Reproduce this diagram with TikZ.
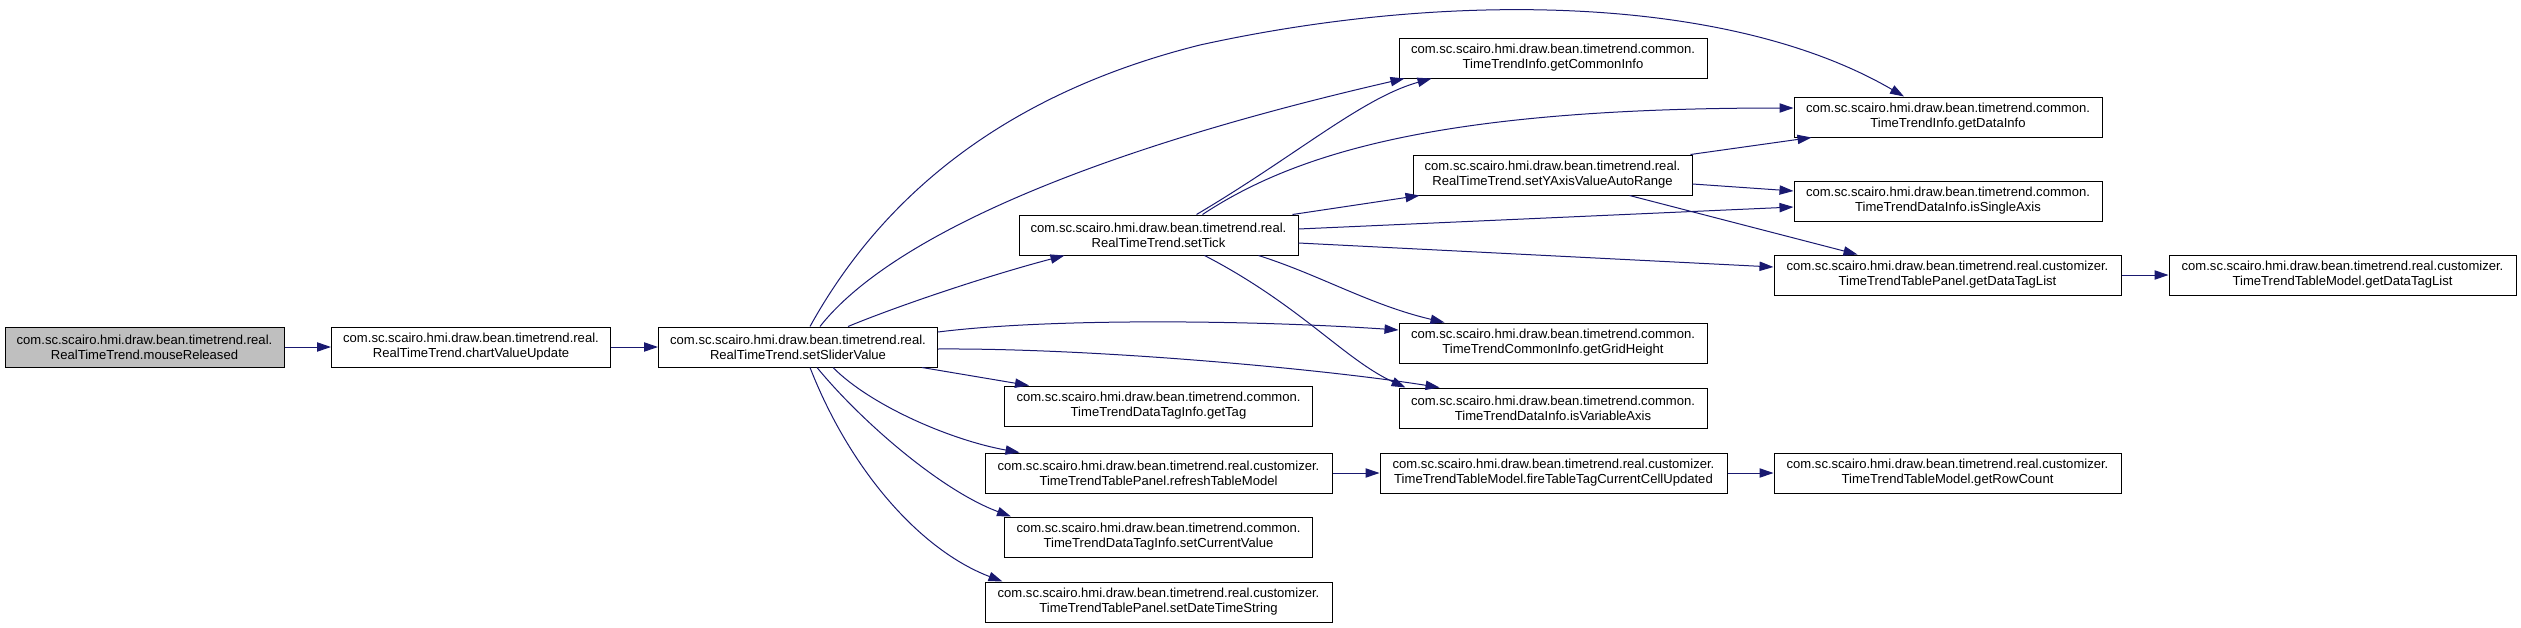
\documentclass[tikz,border=0pt]{standalone}
\usepackage{fontspec}
\setmainfont{Liberation Sans}
\usetikzlibrary{arrows.meta,calc}
\definecolor{edgecol}{HTML}{191970}
\definecolor{rootfill}{HTML}{BFBFBF}
\begin{document}
\begin{tikzpicture}[x=0.75pt,y=-0.75pt,
  fn/.style={draw=black, line width=0.75pt, fill=white, inner sep=0pt, minimum height=30pt, align=center, font=\fontsize{9.8pt}{11.25pt}\selectfont},
  wreal/.style={fn, minimum width=209.25pt},
  wcom/.style={fn, minimum width=231pt},
  wcus/.style={fn, minimum width=260.25pt},
  root/.style={fill=rootfill},
  call/.style={draw=edgecol, line width=0.75pt, -{Triangle[length=10.5pt,width=7pt]}}
]
\useasboundingbox (0,0) rectangle (2521,628);
% nodes
\node[wreal, root] (mr) at (144.5,347) {com.sc.scairo.hmi.draw.bean.timetrend.real.\\RealTimeTrend.mouseReleased};
\node[wreal] (cvu) at (471,347) {com.sc.scairo.hmi.draw.bean.timetrend.real.\\RealTimeTrend.chartValueUpdate};
\node[wreal] (ssv) at (798,347) {com.sc.scairo.hmi.draw.bean.timetrend.real.\\RealTimeTrend.setSliderValue};
\node[wreal] (st) at (1158.5,235) {com.sc.scairo.hmi.draw.bean.timetrend.real.\\RealTimeTrend.setTick};
\node[wcom] (gci) at (1553,58) {com.sc.scairo.hmi.draw.bean.timetrend.common.\\TimeTrendInfo.getCommonInfo};
\node[wcom] (gdi) at (1948,117) {com.sc.scairo.hmi.draw.bean.timetrend.common.\\TimeTrendInfo.getDataInfo};
\node[wreal] (syar) at (1552.5,175) {com.sc.scairo.hmi.draw.bean.timetrend.real.\\RealTimeTrend.setYAxisValueAutoRange};
\node[wcom] (isa) at (1948,201) {com.sc.scairo.hmi.draw.bean.timetrend.common.\\TimeTrendDataInfo.isSingleAxis};
\node[wcus] (tpdtl) at (1947.5,275) {com.sc.scairo.hmi.draw.bean.timetrend.real.customizer.\\TimeTrendTablePanel.getDataTagList};
\node[wcus] (tmdtl) at (2342.5,275) {com.sc.scairo.hmi.draw.bean.timetrend.real.customizer.\\TimeTrendTableModel.getDataTagList};
\node[wcom] (ggh) at (1553,343) {com.sc.scairo.hmi.draw.bean.timetrend.common.\\TimeTrendCommonInfo.getGridHeight};
\node[wcom] (iva) at (1553,408) {com.sc.scairo.hmi.draw.bean.timetrend.common.\\TimeTrendDataInfo.isVariableAxis};
\node[wcom] (gt) at (1158.5,406) {com.sc.scairo.hmi.draw.bean.timetrend.common.\\TimeTrendDataTagInfo.getTag};
\node[wcus] (rtm) at (1158.5,473) {com.sc.scairo.hmi.draw.bean.timetrend.real.customizer.\\TimeTrendTablePanel.refreshTableModel};
\node[wcus] (ftt) at (1553.5,473) {com.sc.scairo.hmi.draw.bean.timetrend.real.customizer.\\TimeTrendTableModel.fireTableTagCurrentCellUpdated};
\node[wcus] (gr) at (1947.5,473) {com.sc.scairo.hmi.draw.bean.timetrend.real.customizer.\\TimeTrendTableModel.getRowCount};
\node[wcom] (scv) at (1158.5,537) {com.sc.scairo.hmi.draw.bean.timetrend.common.\\TimeTrendDataTagInfo.setCurrentValue};
\node[wcus] (sdts) at (1158.5,602) {com.sc.scairo.hmi.draw.bean.timetrend.real.customizer.\\TimeTrendTablePanel.setDateTimeString};
% edges
\draw[call] (mr) -- (cvu);
\draw[call] (cvu) -- (ssv);
\draw[call] ($(ssv.north)+(50,0)$) .. controls (900,305) and (990,275) .. ($(st.south)+(-94,0)$);
\draw[call] ($(ssv.north)+(22,0)$) .. controls (880,250) and (1050,160) .. ($(gci.south west)+(6,0)$);
\draw[call] ($(ssv.north)+(12,0)$) .. controls (880,200) and (1000,95) .. (1200,45) .. controls (1450,-10) and (1730,-5) .. ($(gdi.north)+(-44,0)$);
\draw[call] ($(ssv.east)+(0,-15)$) .. controls (1050,318) and (1250,320) .. ($(ggh.west)+(0,-13)$);
\draw[call] ($(ssv.east)+(0,2)$) .. controls (1100,348) and (1330,370) .. ($(iva.north west)+(41,0)$);
\draw[call] ($(ssv.south east)+(-16,0)$) -- ($(gt.north west)+(25,0)$);
\draw[call] ($(ssv.south)+(35,0)$) .. controls (870,405) and (950,440) .. ($(rtm.north west)+(35,0)$);
\draw[call] ($(ssv.south)+(19,0)$) .. controls (860,420) and (940,490) .. ($(scv.north west)+(7,0)$);
\draw[call] ($(ssv.south)+(12,0)$) .. controls (850,470) and (920,550) .. ($(sdts.north west)+(18,0)$);
\draw[call] ($(st.north)+(38,0)$) .. controls (1297,155) and (1362,98) .. ($(gci.south west)+(33,0)$);
\draw[call] ($(st.north)+(44,0)$) .. controls (1300,150) and (1450,108) .. ($(gdi.west)+(0,-9)$);
\draw[call] ($(st.north east)+(-6,0)$) -- ($(syar.south west)+(7,0)$);
\draw[call] ($(st.east)+(0,-6)$) -- ($(isa.west)+(0,6)$);
\draw[call] ($(st.east)+(0,8)$) -- ($(tpdtl.west)+(0,-8)$);
\draw[call] ($(st.south)+(100,0)$) .. controls (1320,275) and (1370,305) .. ($(ggh.north west)+(46,0)$);
\draw[call] ($(st.south)+(46,0)$) .. controls (1300,305) and (1345,360) .. ($(iva.north west)+(7,0)$);
\draw[call] ($(syar.north east)+(-2,0)$) -- ($(gdi.south west)+(18,0)$);
\draw[call] ($(syar.east)+(0,9)$) -- ($(isa.west)+(0,-10)$);
\draw[call] ($(syar.south)+(77,0)$) -- ($(tpdtl.north)+(-90,0)$);
\draw[call] (tpdtl) -- (tmdtl);
\draw[call] (rtm) -- (ftt);
\draw[call] (ftt) -- (gr);
\end{tikzpicture}
\end{document}
